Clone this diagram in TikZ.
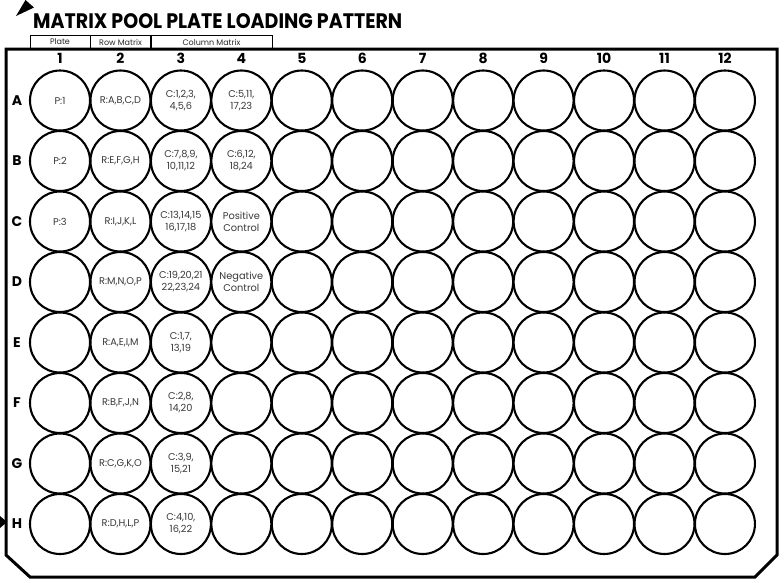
\documentclass[tikz,border=0pt]{standalone}
\usepackage{graphicx}
\usepackage{fontspec}
\setmainfont{Poppins}
\begin{document}
\begin{tikzpicture}[x=1pt,y=-1pt,
  well/.style={circle,draw,line width=2.1pt,minimum size=60pt,inner sep=0pt},
  wtxt/.style={font=\fontsize{9.8}{12}\selectfont,text=black!78,align=center,inner sep=0pt},
  lbl/.style={font=\fontsize{14}{14}\selectfont\bfseries,inner sep=0pt},
  hdr/.style={draw,line width=0.9pt,inner sep=0pt},
  htxt/.style={font=\fontsize{8}{8}\selectfont,text=black!85,inner sep=0pt},
  plate/.style={draw,line width=3pt,line join=miter}]
\useasboundingbox (0,0) rectangle (784,582);
% title and corner marker
\fill (16,16) -- (25.5,0) -- (34,7.5) -- cycle;
\node[anchor=base west,inner sep=0pt,font=\fontsize{21}{21}\selectfont\bfseries] (title) at (33,28.5) {\resizebox{369pt}{\height}{MATRIX POOL PLATE LOADING PATTERN}};
% plate outline
\draw[plate] (6,49) -- (777,49) -- (777,555) -- (755,577) -- (30,577) -- (6,555) -- cycle;
% header boxes
\node[hdr,minimum width=60pt,minimum height=14pt] (h1) at (60,42) {};
\node[hdr,minimum width=60.5pt,minimum height=14pt] (h2) at (120.5,42) {};
\node[hdr,minimum width=121pt,minimum height=14pt] (h3) at (211.5,42) {};
\node[htxt] (h1t) at (h1) {Plate};
\node[htxt] (h2t) at (h2) {Row Matrix};
\node[htxt] (h3t) at (h3) {Column Matrix};
% row marker
\fill (0,516) -- (7,522) -- (0,528) -- cycle;
% column numbers
\foreach \i in {1,...,12} {
  \node[lbl] (col\i) at ({60+60.45*(\i-1)},58) {\i};
}
% row letters and wells
\foreach \r [count=\k from 0] in {A,B,C,D,E,F,G,H} {
  \node[lbl] (row\r) at (17,{100.5+60.5*\k}) {\r};
  \foreach \i in {1,...,12} {
    \node[well] (w\r\i) at ({60+60.45*(\i-1)},{100.5+60.5*\k}) {};
  }
}
% well texts
\node[wtxt] at (wA1) {P:1};
\node[wtxt] at (wB1) {P:2};
\node[wtxt] at (wC1) {P:3};
\node[wtxt] at (wA2) {R:A,B,C,D};
\node[wtxt] at (wB2) {R:E,F,G,H};
\node[wtxt] at (wC2) {R:I,J,K,L};
\node[wtxt] at (wD2) {R:M,N,O,P};
\node[wtxt] at (wE2) {R:A,E,I,M};
\node[wtxt] at (wF2) {R:B,F,J,N};
\node[wtxt] at (wG2) {R:C,G,K,O};
\node[wtxt] at (wH2) {R:D,H,L,P};
\node[wtxt] at (wA3) {C:1,2,3,\\4,5,6};
\node[wtxt] at (wB3) {C:7,8,9,\\10,11,12};
\node[wtxt] at (wC3) {C:13,14,15\\16,17,18};
\node[wtxt] at (wD3) {C:19,20,21\\22,23,24};
\node[wtxt] at (wE3) {C:1,7,\\13,19};
\node[wtxt] at (wF3) {C:2,8,\\14,20};
\node[wtxt] at (wG3) {C:3,9,\\15,21};
\node[wtxt] at (wH3) {C:4,10,\\16,22};
\node[wtxt] at (wA4) {C:5,11,\\17,23};
\node[wtxt] at (wB4) {C:6,12,\\18,24};
\node[wtxt] at (wC4) {Positive\\Control};
\node[wtxt] at (wD4) {Negative\\Control};
\end{tikzpicture}
\end{document}
